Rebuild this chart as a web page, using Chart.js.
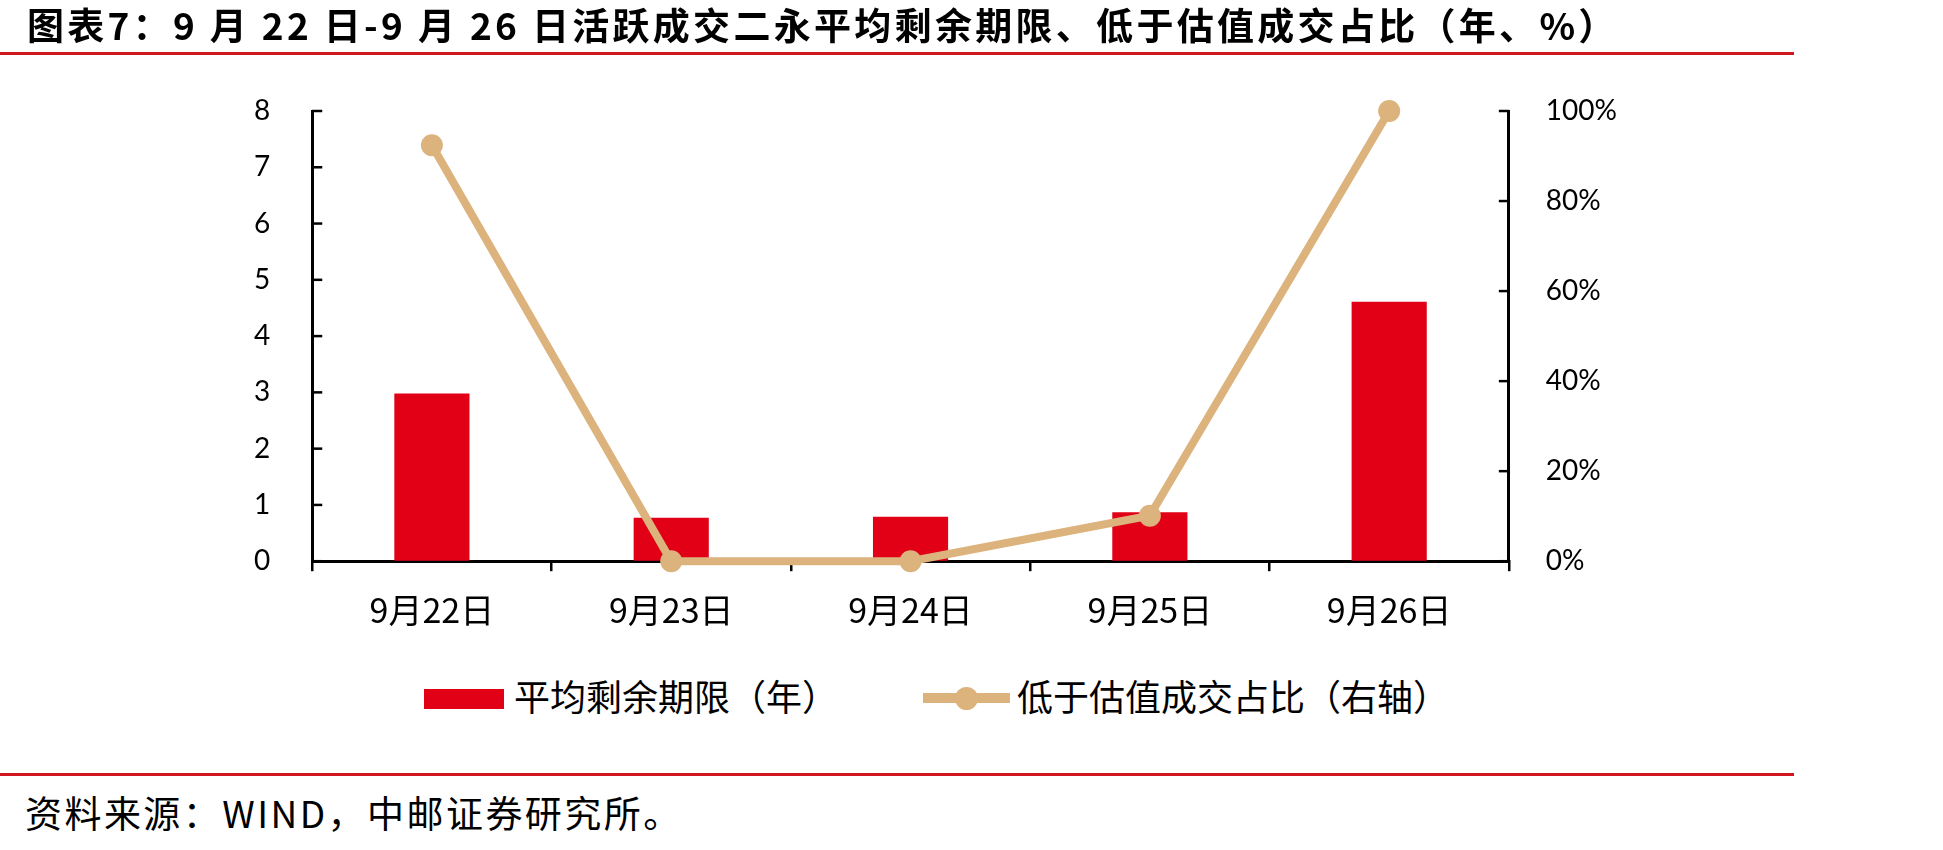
<!DOCTYPE html>
<html>
<head>
<meta charset="utf-8">
<script src="https://cdn.jsdelivr.net/npm/chart.js@4.4.1/dist/chart.umd.min.js"></script>
<style>
  html, body { margin: 0; padding: 0; background: #fff; }
  body { width: 1943px; height: 850px; position: relative; overflow: hidden; font-family: "Noto Sans CJK SC", sans-serif; color: #000; }
  #title { position: absolute; left: 27px; top: -3px; font-size: 37px; font-weight: bold; letter-spacing: 3.3px; white-space: nowrap; }
  .rule { position: absolute; left: 0; width: 1794px; height: 3px; background: #d0171f; }
  #foot { position: absolute; left: 25px; top: 785px; font-size: 37px; letter-spacing: 2.45px; white-space: nowrap; }
  #wrap { position: absolute; left: 0; top: 0; width: 1866px; height: 660px; }
  /* legend */
  .lg { position: absolute; font-size: 36px; white-space: nowrap; top: 669px; }
  .sw-bar { position: absolute; left: 424px; top: 689px; width: 80px; height: 20px; background: #e10016; }
  .sw-line { position: absolute; left: 923px; top: 693px; width: 87px; height: 10px; background: #dcb37c; }
  .sw-dot { position: absolute; left: 955px; top: 687px; width: 23px; height: 23px; border-radius: 50%; background: #dcb37c; }
</style>
</head>
<body>
<div id="wrap"><canvas id="chart"></canvas></div>
<div id="title">图表7：9 月 22 日-9 月 26 日活跃成交二永平均剩余期限、低于估值成交占比（年、%）</div>
<div class="rule" style="top:52px"></div>

<div class="sw-bar"></div>
<div class="lg" id="lg0" style="left:514px"></div>
<div class="sw-line"></div>
<div class="sw-dot"></div>
<div class="lg" id="lg1" style="left:1017px"></div>

<div class="rule" style="top:773px"></div>
<div id="foot">资料来源：WIND，中邮证券研究所。</div>

<script>
// ---- data ----
const categories = ['9月22日', '9月23日', '9月24日', '9月25日', '9月26日'];
const avgTerm = [2.98, 0.77, 0.79, 0.87, 4.61];        // 平均剩余期限（年）
const belowValShare = [92.4, 0, 0, 10.1, 100];         // 低于估值成交占比（%）
const seriesNames = ['平均剩余期限（年）', '低于估值成交占比（右轴）'];
const leftAxis = { min: 0, max: 8, step: 1 };
const rightAxis = { min: 0, max: 100, step: 20 };

const RED = '#e10016';
const TAN = '#dcb37c';
const CJK = '"Noto Sans CJK SC", sans-serif';

document.getElementById('lg0').textContent = seriesNames[0];
document.getElementById('lg1').textContent = seriesNames[1];

// small tick marks pointing into the plot on both value axes
const innerTicks = {
  id: 'innerTicks',
  afterDraw(chart) {
    const ctx = chart.ctx;
    ctx.save();
    ctx.strokeStyle = '#000';
    ctx.lineWidth = 2.5;
    [['y', 1], ['y1', -1]].forEach(([id, dir]) => {
      const s = chart.scales[id];
      const x0 = id === 'y' ? s.right : s.left;
      s.ticks.forEach((t, i) => {
        const yy = s.getPixelForTick(i);
        ctx.beginPath();
        ctx.moveTo(x0, yy);
        ctx.lineTo(x0 + dir * 10, yy);
        ctx.stroke();
      });
    });
    ctx.restore();
  }
};

new Chart(document.getElementById('chart'), {
  data: {
    labels: categories,
    datasets: [{
      type: 'bar',
      label: seriesNames[0],
      data: avgTerm,
      backgroundColor: RED,
      barPercentage: 0.314,
      categoryPercentage: 1.0,
      yAxisID: 'y',
      order: 1,
    }, {
      type: 'line',
      label: seriesNames[1],
      data: belowValShare,
      borderColor: TAN,
      backgroundColor: TAN,
      borderWidth: 8,
      pointRadius: 11,
      pointBackgroundColor: TAN,
      pointBorderWidth: 0,
      tension: 0,
      clip: false,
      yAxisID: 'y1',
      order: 0,
    }],
  },
  options: {
    responsive: true,
    maintainAspectRatio: false,
    animation: false,
    devicePixelRatio: 1,
    layout: { padding: { left: 212, right: 212, top: 111, bottom: 12 } },
    plugins: {
      tooltip: { enabled: false },
      legend: { display: false },
    },
    scales: {
      x: {
        grid: { display: true, drawOnChartArea: false, drawTicks: true, tickLength: 10, color: '#000', lineWidth: 2.5, offset: true },
        border: { color: '#000', width: 3 },
        ticks: { color: '#000', font: { family: CJK, size: 34 }, padding: 18, maxRotation: 0 },
      },
      y: {
        position: 'left',
        min: leftAxis.min, max: leftAxis.max,
        grid: { drawOnChartArea: false, drawTicks: false },
        border: { color: '#000', width: 3 },
        ticks: { stepSize: leftAxis.step, color: '#000', font: { family: 'Lato', size: 28 }, padding: 42 },
      },
      y1: {
        position: 'right',
        min: rightAxis.min, max: rightAxis.max,
        grid: { drawOnChartArea: false, drawTicks: false },
        border: { color: '#000', width: 3 },
        ticks: { stepSize: rightAxis.step, color: '#000', font: { family: 'Lato', size: 28 }, padding: 37, callback: v => v + '%' },
      },
    },
  },
  plugins: [innerTicks],
});
</script>
</body>
</html>
